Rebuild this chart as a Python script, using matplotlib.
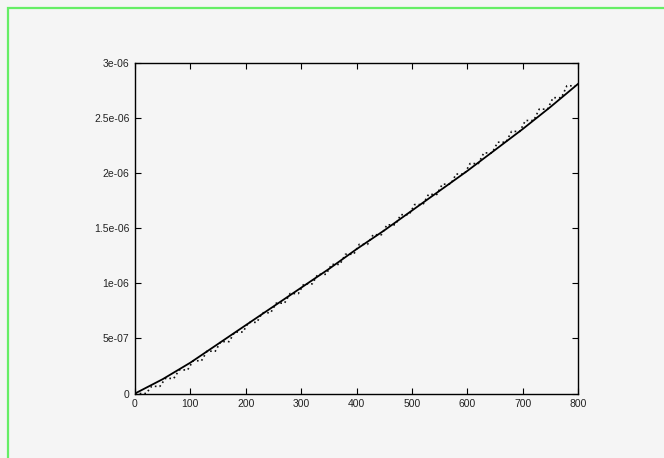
import numpy as np
import matplotlib
matplotlib.use("Agg")
import matplotlib.pyplot as plt
from matplotlib.patches import Rectangle

# Solid curve (values in units of 1e-6)
line_x = [0, 50, 100, 150, 200, 250, 300, 350, 400, 450, 500, 550, 600, 650, 700, 750, 800]
line_y = [0.00, 0.13, 0.28, 0.45, 0.62, 0.79, 0.96, 1.13, 1.31, 1.48, 1.66, 1.84, 2.02, 2.21, 2.40, 2.60, 2.81]

# Dotted staircase curve: plateau start/end x positions and plateau levels (1e-6)
dot_x = [0, 20, 30, 45, 55, 70, 80, 95, 105, 120, 130, 145, 155, 170, 180, 195,
         205, 220, 230, 245, 255, 270, 280, 295, 305, 320, 330, 345, 355, 370, 380, 395,
         405, 420, 430, 445, 455, 470, 480, 495, 505, 520, 530, 545, 555, 570, 580, 595,
         605, 620, 630, 645, 655, 670, 680, 695, 705, 720, 730, 745, 755, 770, 780, 795]
dot_levels = [0.00, 0.065, 0.137, 0.214, 0.297, 0.384, 0.471, 0.558,
              0.646, 0.733, 0.820, 0.907, 0.995, 1.082, 1.172, 1.264,
              1.354, 1.441, 1.531, 1.623, 1.715, 1.807, 1.900, 1.992,
              2.087, 2.184, 2.281, 2.379, 2.478, 2.581, 2.685, 2.793]

y_ticks = [0, 0.5e-6, 1e-6, 1.5e-6, 2e-6, 2.5e-6, 3e-6]
y_tick_labels = ["0", "5e-07", "1e-06", "1.5e-06", "2e-06", "2.5e-06", "3e-06"]
x_ticks = [0, 100, 200, 300, 400, 500, 600, 700, 800]
x_tick_labels = ["0", "100", "200", "300", "400", "500", "600", "700", "800"]

plt.rcParams['font.family'] = ['Liberation Sans', 'DejaVu Sans']

W, H = 664, 458
fig = plt.figure(figsize=(W / 100, H / 100), dpi=100, facecolor='#f5f5f5')
ax = fig.add_axes([135 / W, 1 - 393.5 / H, (578 - 135) / W, (393.5 - 63) / H])
ax.set_facecolor('#f5f5f5')

ax.plot(line_x, np.array(line_y) * 1e-6, color='black', lw=1.3, zorder=3)
ax.plot(dot_x, np.repeat(dot_levels, 2) * 1e-6, color='#111111', lw=1.2,
        linestyle=(0, (1, 1.8)), zorder=2)

ax.set_xlim(0, 800)
ax.set_ylim(0, 3e-6)
ax.set_xticks(x_ticks)
ax.set_xticklabels(x_tick_labels)
ax.set_yticks(y_ticks)
ax.set_yticklabels(y_tick_labels)
ax.tick_params(direction='in', length=4, width=0.8, top=True, right=True,
               labelsize=7.5, labelcolor='#222222', pad=4)
for s in ax.spines.values():
    s.set_linewidth(1.0)
    s.set_color('black')

# Green frame (top and left visible)
fig.patches.append(Rectangle((7.5 / W, -0.1), 1.2, 1 - 7.5 / H + 0.1,
                             transform=fig.transFigure, fill=False,
                             edgecolor='#66ee66', lw=1.6, clip_on=False))

fig.savefig('out.png', dpi=100, facecolor=fig.get_facecolor())
